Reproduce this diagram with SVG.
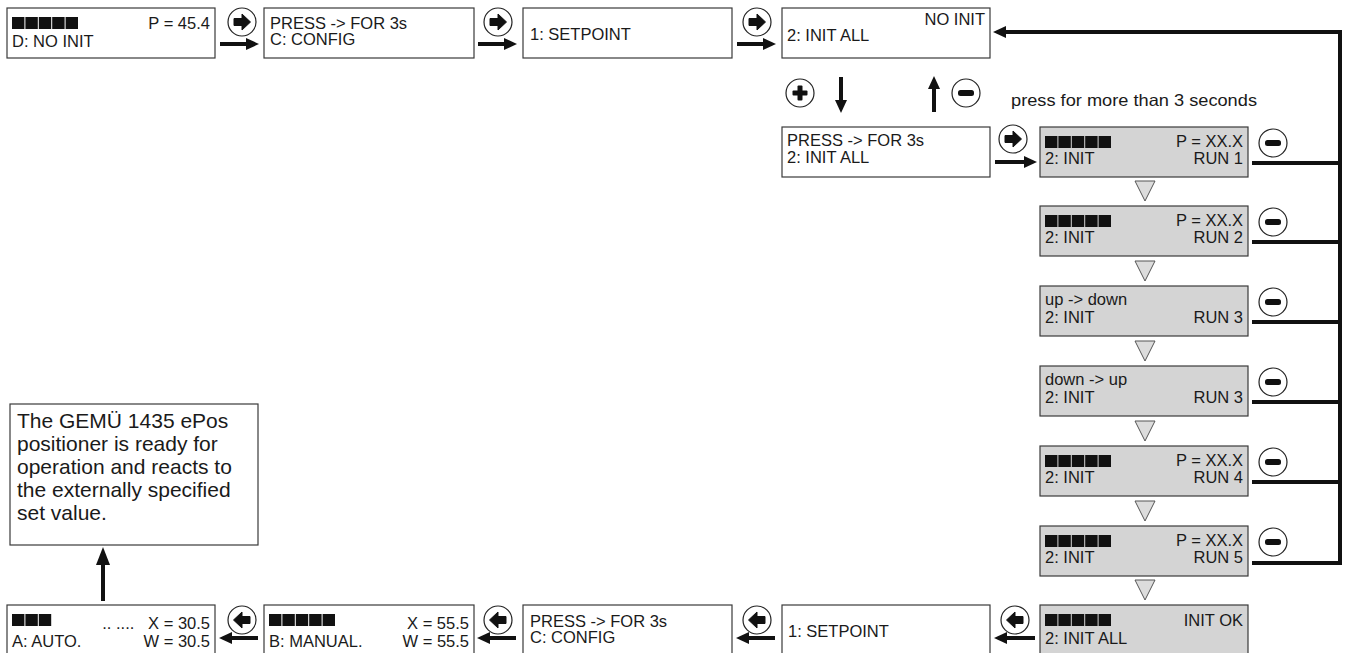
<svg xmlns="http://www.w3.org/2000/svg" xmlns:xlink="http://www.w3.org/1999/xlink" width="1349" height="653" viewBox="0 0 1349 653">
<style>
.t{font-family:"Liberation Sans",Arial,Helvetica,sans-serif;font-size:16.5px;fill:#1a1a1a}
.e{text-anchor:end}
.note{font-family:"Liberation Sans",Arial,Helvetica,sans-serif;font-size:21px;fill:#1a1a1a}
.box{fill:#fff;stroke:#3a3a3a;stroke-width:1.2}
.gbox{fill:#d4d4d4;stroke:#3a3a3a;stroke-width:1.2}
.sq{fill:#111}
.ln{stroke:#111;stroke-width:4;fill:none}
.tri{fill:#dcdcdc;stroke:#555;stroke-width:1}
</style>
<defs>
<marker id="ah" markerUnits="userSpaceOnUse" markerWidth="13" markerHeight="12" viewBox="0 0 13 12" refX="6" refY="6" orient="auto">
<path d="M0,0 L13,6 L0,12 Z" fill="#111"/>
</marker>
<marker id="ahb" markerUnits="userSpaceOnUse" markerWidth="18" markerHeight="14" viewBox="0 0 18 14" refX="8" refY="7" orient="auto">
<path d="M0,0 L18,7 L0,14 Z" fill="#111"/>
</marker>
<g id="bR"><circle r="14" fill="#fff" stroke="#222" stroke-width="1.2"/><path d="M-8,-3.5 H0 V-8 L8.5,0 L0,8 V3.5 H-8 Z" fill="#111" stroke="#111" stroke-width="1" stroke-linejoin="round"/></g>
<g id="bL"><use xlink:href="#bR" href="#bR" transform="scale(-1,1)"/></g>
<g id="bM"><circle r="14" fill="#fff" stroke="#222" stroke-width="1.2"/><rect x="-8" y="-3" width="16" height="6" rx="2.5" fill="#111"/></g>
<g id="bP"><circle r="14" fill="#fff" stroke="#222" stroke-width="1.2"/><rect x="-7.5" y="-2.5" width="15" height="5" rx="1" fill="#111"/><rect x="-2.5" y="-7.5" width="5" height="15" rx="1" fill="#111"/></g>
<g id="sq5"><rect class="sq" x="0" y="0" width="12.4" height="12"/><rect class="sq" x="13.4" y="0" width="12.4" height="12"/><rect class="sq" x="26.8" y="0" width="12.4" height="12"/><rect class="sq" x="40.2" y="0" width="12.4" height="12"/><rect class="sq" x="53.6" y="0" width="12.4" height="12"/></g>
<g id="sq3"><rect class="sq" x="0" y="0" width="12.4" height="12"/><rect class="sq" x="13.4" y="0" width="12.4" height="12"/><rect class="sq" x="26.8" y="0" width="12.4" height="12"/></g>
</defs>

<g id="connectors">
<line class="ln" x1="220" y1="44" x2="252" y2="44" marker-end="url(#ah)"/>
<line class="ln" x1="478" y1="44" x2="510" y2="44" marker-end="url(#ah)"/>
<line class="ln" x1="737" y1="44" x2="769" y2="44" marker-end="url(#ah)"/>
<line class="ln" x1="841" y1="77" x2="841" y2="106" marker-end="url(#ah)"/>
<line class="ln" x1="934" y1="112" x2="934" y2="83" marker-end="url(#ah)"/>
<line class="ln" x1="995" y1="162" x2="1030" y2="162" marker-end="url(#ah)"/>
<polyline class="ln" points="1252,563 1340,563 1340,32 1000,32" marker-end="url(#ah)"/>
<line class="ln" x1="1252" y1="163" x2="1340" y2="163"/>
<line class="ln" x1="1252" y1="242" x2="1340" y2="242"/>
<line class="ln" x1="1252" y1="322" x2="1340" y2="322"/>
<line class="ln" x1="1252" y1="402" x2="1340" y2="402"/>
<line class="ln" x1="1252" y1="482" x2="1340" y2="482"/>
<line class="ln" x1="1035" y1="638" x2="1001" y2="638" marker-end="url(#ah)"/>
<line class="ln" x1="775" y1="638" x2="743" y2="638" marker-end="url(#ah)"/>
<line class="ln" x1="516" y1="638" x2="484" y2="638" marker-end="url(#ah)"/>
<line class="ln" x1="258" y1="638" x2="226" y2="638" marker-end="url(#ah)"/>
<line class="ln" x1="103" y1="601" x2="103" y2="557" marker-end="url(#ahb)"/>
<polygon class="tri" points="1135,181 1155,181 1145,201"/>
<polygon class="tri" points="1135,261 1155,261 1145,281"/>
<polygon class="tri" points="1135,341 1155,341 1145,361"/>
<polygon class="tri" points="1135,421 1155,421 1145,441"/>
<polygon class="tri" points="1135,501 1155,501 1145,521"/>
<polygon class="tri" points="1135,580 1155,580 1145,600"/>
</g>

<g id="buttons">
<use xlink:href="#bR" href="#bR" x="242" y="22"/>
<use xlink:href="#bR" href="#bR" x="498" y="22"/>
<use xlink:href="#bR" href="#bR" x="757" y="22"/>
<use xlink:href="#bP" href="#bP" x="800" y="93"/>
<use xlink:href="#bM" href="#bM" x="966" y="93"/>
<use xlink:href="#bR" href="#bR" x="1013" y="139"/>
<use xlink:href="#bM" href="#bM" x="1273" y="143"/>
<use xlink:href="#bM" href="#bM" x="1273" y="222"/>
<use xlink:href="#bM" href="#bM" x="1273" y="302"/>
<use xlink:href="#bM" href="#bM" x="1273" y="382"/>
<use xlink:href="#bM" href="#bM" x="1273" y="462"/>
<use xlink:href="#bM" href="#bM" x="1273" y="542"/>
<use xlink:href="#bL" href="#bL" x="1015" y="620"/>
<use xlink:href="#bL" href="#bL" x="757" y="620"/>
<use xlink:href="#bL" href="#bL" x="498" y="620"/>
<use xlink:href="#bL" href="#bL" x="242" y="620"/>
</g>

<text class="t" x="1011" y="106" textLength="246" lengthAdjust="spacingAndGlyphs">press for more than 3 seconds</text>

<g id="n1"><rect class="box" x="7" y="8" width="208" height="50"/><use xlink:href="#sq5" href="#sq5" x="12" y="17"/><text class="t e" x="210" y="29">P = 45.4</text><text class="t" x="12" y="47">D: NO INIT</text></g>
<g id="n2"><rect class="box" x="264" y="8" width="210" height="50"/><text class="t" x="270" y="29">PRESS -&gt; FOR 3s</text><text class="t" x="270" y="45">C: CONFIG</text></g>
<g id="n3"><rect class="box" x="523" y="8" width="209" height="50"/><text class="t" x="530" y="40">1: SETPOINT</text></g>
<g id="n4"><rect class="box" x="782" y="8" width="208" height="50"/><text class="t e" x="985" y="25">NO INIT</text><text class="t" x="787" y="41">2: INIT ALL</text></g>
<g id="n5"><rect class="box" x="782" y="127" width="208" height="50"/><text class="t" x="787" y="146">PRESS -&gt; FOR 3s</text><text class="t" x="787" y="163">2: INIT ALL</text></g>

<g id="run1"><rect class="gbox" x="1040" y="127" width="208" height="50"/><use xlink:href="#sq5" href="#sq5" x="1045" y="136"/><text class="t e" x="1243" y="147">P = XX.X</text><text class="t" x="1045" y="164">2: INIT</text><text class="t e" x="1243" y="164">RUN 1</text></g>
<g id="run2"><rect class="gbox" x="1040" y="206" width="208" height="50"/><use xlink:href="#sq5" href="#sq5" x="1045" y="215"/><text class="t e" x="1243" y="226">P = XX.X</text><text class="t" x="1045" y="243">2: INIT</text><text class="t e" x="1243" y="243">RUN 2</text></g>
<g id="run3a"><rect class="gbox" x="1040" y="286" width="208" height="50"/><text class="t" x="1045" y="305">up -&gt; down</text><text class="t" x="1045" y="323">2: INIT</text><text class="t e" x="1243" y="323">RUN 3</text></g>
<g id="run3b"><rect class="gbox" x="1040" y="366" width="208" height="50"/><text class="t" x="1045" y="385">down -&gt; up</text><text class="t" x="1045" y="403">2: INIT</text><text class="t e" x="1243" y="403">RUN 3</text></g>
<g id="run4"><rect class="gbox" x="1040" y="446" width="208" height="50"/><use xlink:href="#sq5" href="#sq5" x="1045" y="455"/><text class="t e" x="1243" y="466">P = XX.X</text><text class="t" x="1045" y="483">2: INIT</text><text class="t e" x="1243" y="483">RUN 4</text></g>
<g id="run5"><rect class="gbox" x="1040" y="526" width="208" height="50"/><use xlink:href="#sq5" href="#sq5" x="1045" y="535"/><text class="t e" x="1243" y="546">P = XX.X</text><text class="t" x="1045" y="563">2: INIT</text><text class="t e" x="1243" y="563">RUN 5</text></g>
<g id="initok"><rect class="gbox" x="1040" y="605" width="208" height="60"/><use xlink:href="#sq5" href="#sq5" x="1045" y="614"/><text class="t e" x="1243" y="626">INIT OK</text><text class="t" x="1045" y="644">2: INIT ALL</text></g>

<g id="b4"><rect class="box" x="782" y="605" width="208" height="60"/><text class="t" x="788" y="637">1: SETPOINT</text></g>
<g id="b3"><rect class="box" x="523" y="605" width="209" height="60"/><text class="t" x="530" y="627">PRESS -&gt; FOR 3s</text><text class="t" x="530" y="643">C: CONFIG</text></g>
<g id="b2"><rect class="box" x="264" y="605" width="210" height="60"/><use xlink:href="#sq5" href="#sq5" x="269" y="614"/><text class="t e" x="469" y="629">X = 55.5</text><text class="t" x="269" y="647">B: MANUAL.</text><text class="t e" x="469" y="647">W = 55.5</text></g>
<g id="b1"><rect class="box" x="7" y="605" width="208" height="60"/><use xlink:href="#sq3" href="#sq3" x="12" y="614"/><text class="t e" x="210" y="629" xml:space="preserve">.. ....   X = 30.5</text><text class="t" x="12" y="647">A: AUTO.</text><text class="t e" x="210" y="647">W = 30.5</text></g>

<g id="note"><rect class="box" x="10" y="404" width="248" height="141"/>
<text class="note" x="17" y="428">The GEMÜ 1435 ePos</text>
<text class="note" x="17" y="451">positioner is ready for</text>
<text class="note" x="17" y="474">operation and reacts to</text>
<text class="note" x="17" y="497">the externally specified</text>
<text class="note" x="17" y="520">set value.</text>
</g>
</svg>
